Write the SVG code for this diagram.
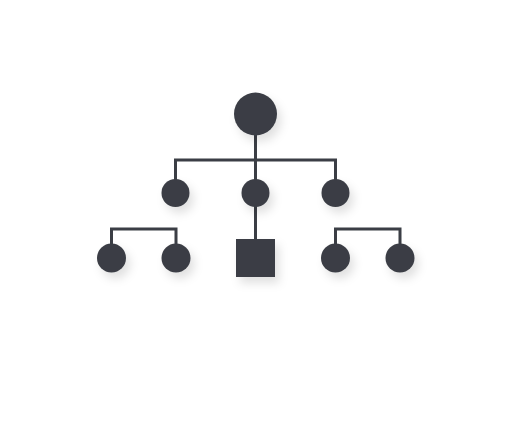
<svg xmlns="http://www.w3.org/2000/svg" width="512" height="445" viewBox="0 0 512 445">
<style>
.n{fill:#3b3e45;filter:url(#sh)}
.c{fill:none;stroke:#3b3e45;stroke-width:3;stroke-linejoin:miter}
</style>
<defs>
<filter id="sh" x="-60%" y="-60%" width="250%" height="250%">
<feDropShadow dx="4" dy="6" stdDeviation="5" flood-color="#000" flood-opacity="0.12"/>
</filter>
</defs>
<rect width="512" height="445" fill="#ffffff"/>
<g id="connectors">
<path class="c" d="M255.5 134V160M175.5 180V160H335.5V180M255.5 160V180"/>
<path class="c" d="M255.5 206V240"/>
<path class="c" d="M111.5 246V229H176V246"/>
<path class="c" d="M335.5 246V229H400V246"/>
</g>
<g id="root"><circle class="n" cx="255.5" cy="114" r="21.5"/></g>
<g id="mid-left"><circle class="n" cx="175.5" cy="193" r="14"/></g>
<g id="mid-center"><circle class="n" cx="255.5" cy="193" r="14"/></g>
<g id="mid-right"><circle class="n" cx="335.5" cy="193" r="14"/></g>
<g id="leaf-1"><circle class="n" cx="111.5" cy="258" r="14.5"/></g>
<g id="leaf-2"><circle class="n" cx="176" cy="258" r="14.5"/></g>
<g id="leaf-square"><rect class="n" x="236" y="239" width="39" height="38"/></g>
<g id="leaf-3"><circle class="n" cx="335.5" cy="258" r="14.5"/></g>
<g id="leaf-4"><circle class="n" cx="400" cy="258" r="14.5"/></g>
</svg>
